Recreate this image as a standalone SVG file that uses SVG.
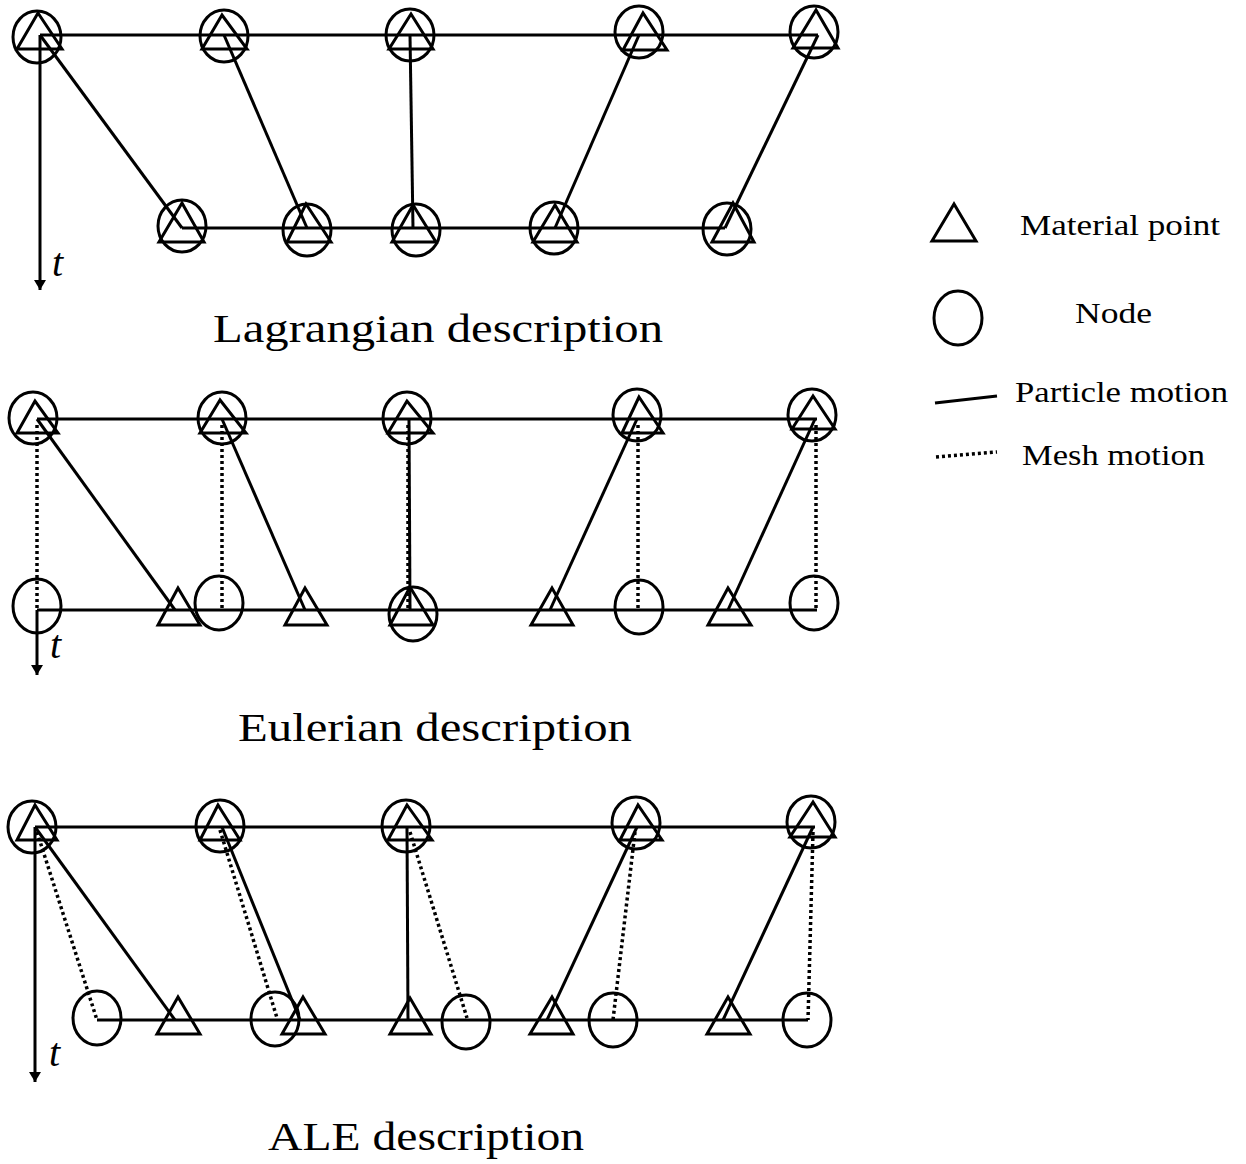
<svg xmlns="http://www.w3.org/2000/svg" width="1246" height="1164" viewBox="0 0 1246 1164">
<defs>
<style>
.s{fill:none;stroke:#000;stroke-width:3}
.d{fill:none;stroke:#000;stroke-width:3.5;stroke-dasharray:3 3}
.c{fill:none;stroke:#000;stroke-width:3}
.t{fill:none;stroke:#000;stroke-width:3;stroke-linejoin:miter}
.lbl{font-family:"Liberation Serif","DejaVu Serif",serif;fill:#000}
.it{font-family:"Liberation Serif","DejaVu Serif",serif;font-style:italic;font-size:40px;fill:#000}
</style>
<marker id="ah" viewBox="0 0 10 12" refX="10" refY="6" markerWidth="10" markerHeight="12" markerUnits="userSpaceOnUse" orient="auto">
<path d="M0,0 L10,6 L0,12 Z" fill="#000"/>
</marker>
</defs>
<rect width="1246" height="1164" fill="#fff"/>

<!-- ===== Lagrangian ===== -->
<g id="connectors-lagrangian">
<line class="s" x1="40" y1="35" x2="818" y2="35"/>
<line class="s" x1="182" y1="228" x2="725" y2="228"/>
<line class="s" x1="40" y1="35" x2="182" y2="228"/>
<line class="s" x1="224" y1="35" x2="307" y2="228"/>
<line class="s" x1="410" y1="35" x2="413" y2="228"/>
<line class="s" x1="639" y1="35" x2="555" y2="228"/>
<line class="s" x1="818" y1="35" x2="725" y2="228"/>
<line class="s" x1="40" y1="35" x2="40" y2="290" marker-end="url(#ah)"/>
</g>
<g id="L-top-1"><ellipse class="c" cx="37" cy="37" rx="24" ry="26"/><polygon class="t" points="38,13 17,49 62,49"/></g>
<g id="L-top-2"><ellipse class="c" cx="224" cy="36" rx="24" ry="26"/><polygon class="t" points="222,15 202,49 247,49"/></g>
<g id="L-top-3"><ellipse class="c" cx="410" cy="35" rx="24" ry="26"/><polygon class="t" points="411,14 389,49 433,49"/></g>
<g id="L-top-4"><ellipse class="c" cx="639" cy="32" rx="24" ry="26"/><polygon class="t" points="643,13 623,50 667,50"/></g>
<g id="L-top-5"><ellipse class="c" cx="814" cy="32" rx="24" ry="26"/><polygon class="t" points="816,10 793,48 838,48"/></g>
<g id="L-bot-1"><ellipse class="c" cx="182" cy="226" rx="24" ry="26"/><polygon class="t" points="182,203 159,242 204,242"/></g>
<g id="L-bot-2"><ellipse class="c" cx="307" cy="230" rx="24" ry="26"/><polygon class="t" points="306,204 287,242 331,242"/></g>
<g id="L-bot-3"><ellipse class="c" cx="416" cy="230" rx="24" ry="26"/><polygon class="t" points="413,205 392,242 436,242"/></g>
<g id="L-bot-4"><ellipse class="c" cx="554" cy="228" rx="24" ry="26"/><polygon class="t" points="555,205 533,242 577,242"/></g>
<g id="L-bot-5"><ellipse class="c" cx="727" cy="229" rx="24" ry="26"/><polygon class="t" points="733,203 712,242 754,242"/></g>
<text class="it" x="52" y="276">t</text>
<text class="lbl" x="213" y="342" font-size="40" textLength="450" lengthAdjust="spacingAndGlyphs">Lagrangian description</text>

<!-- ===== Eulerian ===== -->
<g id="connectors-eulerian">
<line class="s" x1="37" y1="419" x2="817" y2="419"/>
<line class="s" x1="37" y1="610" x2="817" y2="610"/>
<line class="s" x1="37" y1="419" x2="175" y2="610"/>
<line class="s" x1="222" y1="419" x2="305" y2="610"/>
<line class="s" x1="409" y1="419" x2="410" y2="610"/>
<line class="s" x1="637" y1="419" x2="550" y2="610"/>
<line class="s" x1="815" y1="419" x2="728" y2="610"/>
<line class="d" x1="37" y1="425" x2="37" y2="610"/>
<line class="d" x1="222" y1="425" x2="222" y2="610"/>
<line class="d" x1="408" y1="425" x2="408" y2="610"/>
<line class="d" x1="638" y1="425" x2="638" y2="610"/>
<line class="d" x1="816" y1="425" x2="816" y2="610"/>
<line class="s" x1="37" y1="610" x2="37" y2="675" marker-end="url(#ah)"/>
</g>
<g id="E-top-1"><ellipse class="c" cx="33" cy="418" rx="24" ry="26"/><polygon class="t" points="35,401 17,433 58,433"/></g>
<g id="E-top-2"><ellipse class="c" cx="222" cy="418" rx="24" ry="26"/><polygon class="t" points="220,400 200,433 246,433"/></g>
<g id="E-top-3"><ellipse class="c" cx="407" cy="418" rx="24" ry="26"/><polygon class="t" points="407,401 388,433 433,433"/></g>
<g id="E-top-4"><ellipse class="c" cx="637" cy="415" rx="24" ry="26"/><polygon class="t" points="639,397 622,433 663,433"/></g>
<g id="E-top-5"><ellipse class="c" cx="812" cy="415" rx="24" ry="26"/><polygon class="t" points="813,396 792,429 835,429"/></g>
<g id="E-node-1"><ellipse class="c" cx="37" cy="606" rx="24" ry="27"/></g>
<g id="E-node-2"><ellipse class="c" cx="219" cy="603" rx="24" ry="27"/></g>
<g id="E-node-3"><ellipse class="c" cx="413" cy="614" rx="24" ry="27"/></g>
<g id="E-node-4"><ellipse class="c" cx="639" cy="607" rx="24" ry="27"/></g>
<g id="E-node-5"><ellipse class="c" cx="814" cy="603" rx="24" ry="27"/></g>
<g id="E-mat-1"><polygon class="t" points="178,588 158,625 200,625"/></g>
<g id="E-mat-2"><polygon class="t" points="305,588 285,625 327,625"/></g>
<g id="E-mat-3"><polygon class="t" points="410,587 390,625 433,625"/></g>
<g id="E-mat-4"><polygon class="t" points="552,588 531,625 573,625"/></g>
<g id="E-mat-5"><polygon class="t" points="728,588 708,625 751,625"/></g>
<text class="it" x="50" y="658">t</text>
<text class="lbl" x="238" y="741" font-size="40" textLength="394" lengthAdjust="spacingAndGlyphs">Eulerian description</text>

<!-- ===== ALE ===== -->
<g id="connectors-ale">
<line class="s" x1="35" y1="827" x2="815" y2="827"/>
<line class="s" x1="97" y1="1020" x2="808" y2="1020"/>
<line class="s" x1="35" y1="827" x2="175" y2="1020"/>
<line class="s" x1="222" y1="827" x2="300" y2="1020"/>
<line class="s" x1="407" y1="827" x2="408" y2="1020"/>
<line class="s" x1="637" y1="827" x2="547" y2="1020"/>
<line class="s" x1="813" y1="827" x2="723" y2="1020"/>
<line class="d" x1="37" y1="832" x2="97" y2="1020"/>
<line class="d" x1="220" y1="830" x2="277" y2="1018"/>
<line class="d" x1="410" y1="832" x2="467" y2="1018"/>
<line class="d" x1="635" y1="832" x2="613" y2="1020"/>
<line class="d" x1="813" y1="832" x2="808" y2="1020"/>
<line class="s" x1="35" y1="827" x2="35" y2="1082" marker-end="url(#ah)"/>
</g>
<g id="A-top-1"><ellipse class="c" cx="32" cy="827" rx="24" ry="26"/><polygon class="t" points="35,805 17,840 57,840"/></g>
<g id="A-top-2"><ellipse class="c" cx="220" cy="826" rx="24" ry="26"/><polygon class="t" points="218,805 200,840 240,840"/></g>
<g id="A-top-3"><ellipse class="c" cx="406" cy="826" rx="24" ry="26"/><polygon class="t" points="407,805 388,840 432,840"/></g>
<g id="A-top-4"><ellipse class="c" cx="636" cy="823" rx="24" ry="26"/><polygon class="t" points="638,805 620,840 662,840"/></g>
<g id="A-top-5"><ellipse class="c" cx="811" cy="822" rx="24" ry="26"/><polygon class="t" points="813,802 790,837 835,837"/></g>
<g id="A-node-1"><ellipse class="c" cx="97" cy="1018" rx="24" ry="27"/></g>
<g id="A-node-2"><ellipse class="c" cx="275" cy="1019" rx="24" ry="27"/></g>
<g id="A-node-3"><ellipse class="c" cx="466" cy="1022" rx="24" ry="27"/></g>
<g id="A-node-4"><ellipse class="c" cx="613" cy="1020" rx="24" ry="27"/></g>
<g id="A-node-5"><ellipse class="c" cx="807" cy="1020" rx="24" ry="27"/></g>
<g id="A-mat-1"><polygon class="t" points="178,997 157,1034 200,1034"/></g>
<g id="A-mat-2"><polygon class="t" points="303,997 282,1034 325,1034"/></g>
<g id="A-mat-3"><polygon class="t" points="410,998 390,1034 431,1034"/></g>
<g id="A-mat-4"><polygon class="t" points="552,997 530,1034 573,1034"/></g>
<g id="A-mat-5"><polygon class="t" points="728,997 707,1034 750,1034"/></g>
<text class="it" x="49" y="1066">t</text>
<text class="lbl" x="268" y="1150" font-size="40" textLength="316" lengthAdjust="spacingAndGlyphs">ALE description</text>

<!-- ===== Legend ===== -->
<g id="legend-material"><polygon class="t" points="954,204 932,241 976,241"/><text class="lbl" x="1020" y="235" font-size="30" textLength="200" lengthAdjust="spacingAndGlyphs">Material point</text></g>
<g id="legend-node"><ellipse class="c" cx="958" cy="318" rx="24" ry="27"/><text class="lbl" x="1075" y="323" font-size="30" textLength="77" lengthAdjust="spacingAndGlyphs">Node</text></g>
<g id="legend-particle"><line class="s" x1="935" y1="403" x2="997" y2="396"/><text class="lbl" x="1015" y="402" font-size="30" textLength="213" lengthAdjust="spacingAndGlyphs">Particle motion</text></g>
<g id="legend-mesh"><line class="d" x1="936" y1="457" x2="997" y2="452"/><text class="lbl" x="1022" y="465" font-size="30" textLength="183" lengthAdjust="spacingAndGlyphs">Mesh motion</text></g>
</svg>
